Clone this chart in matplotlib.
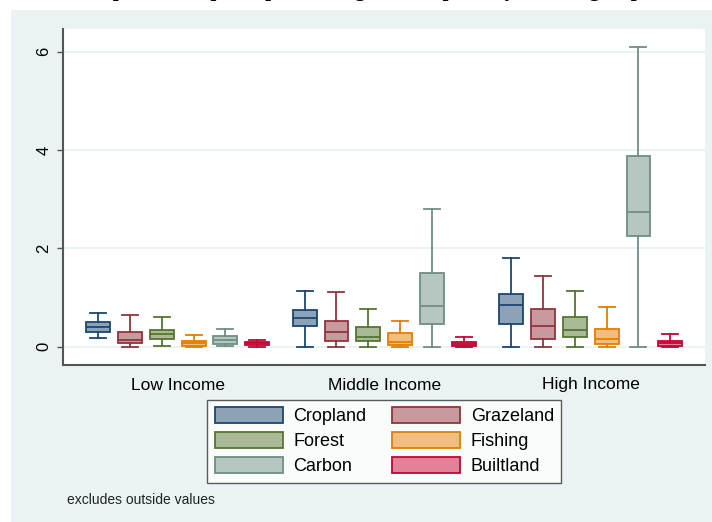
import matplotlib
matplotlib.use("Agg")
import matplotlib.pyplot as plt
from matplotlib.patches import Patch, Rectangle

# Income groups on the x axis and footprint components within each group
groups = ["Low Income", "Middle Income", "High Income"]
components = ["Cropland", "Grazeland", "Forest", "Fishing", "Carbon", "Builtland"]

# Box plot statistics (gha per capita); rows = components, columns = income groups
lower_whisker = [
    [0.17, 0.00, 0.00],
    [0.00, 0.00, 0.00],
    [0.02, 0.00, 0.00],
    [0.00, 0.00, 0.00],
    [0.01, 0.00, 0.00],
    [0.00, 0.00, 0.00],
]
q1 = [
    [0.305, 0.42, 0.47],
    [0.075, 0.12, 0.165],
    [0.16, 0.115, 0.197],
    [0.01, 0.035, 0.06],
    [0.06, 0.455, 2.25],
    [0.03, 0.02, 0.015],
]
median = [
    [0.40, 0.577, 0.84],
    [0.13, 0.305, 0.42],
    [0.25, 0.20, 0.34],
    [0.075, 0.09, 0.15],
    [0.14, 0.83, 2.74],
    [0.07, 0.055, 0.07],
]
q3 = [
    [0.50, 0.746, 1.065],
    [0.31, 0.53, 0.767],
    [0.35, 0.41, 0.60],
    [0.115, 0.285, 0.37],
    [0.22, 1.51, 3.885],
    [0.095, 0.09, 0.12],
]
upper_whisker = [
    [0.69, 1.14, 1.80],
    [0.65, 1.106, 1.44],
    [0.60, 0.77, 1.127],
    [0.24, 0.52, 0.81],
    [0.37, 2.81, 6.10],
    [0.13, 0.19, 0.27],
]

edge_colors = ["#1a476f", "#90353b", "#55752f", "#e37e00", "#6e8e84", "#c10534"]
fill_colors = ["#8ca3b7", "#c89a9d", "#aaba97", "#f1be80", "#b6c6c1", "#e08299"]

bg = "#eaf2f3"
axis_col = "#555555"

fig = plt.figure(figsize=(7.12, 5.22), dpi=100, facecolor="white")
fig.patches.append(Rectangle((11 / 712, 0), 701 / 712, 512 / 522,
                             transform=fig.transFigure, facecolor=bg,
                             edgecolor="none", zorder=-10))

fig.text(0.5, 1 + 4.2 / 522,
         "Components of per capita Ecological Footprint by income group",
         ha="center", va="baseline", fontsize=15, fontweight="bold",
         family="Liberation Serif", color="black")

ax = fig.add_axes([63 / 712, (522 - 365) / 522, 642 / 712, 336 / 522])
ax.set_facecolor("white")

step = 0.154
box_w = 0.116
cap_w = 0.0775

for ci, comp in enumerate(components):
    stats = []
    positions = []
    for gi in range(len(groups)):
        stats.append({
            "whislo": lower_whisker[ci][gi],
            "q1": q1[ci][gi],
            "med": median[ci][gi],
            "q3": q3[ci][gi],
            "whishi": upper_whisker[ci][gi],
            "fliers": [],
        })
        positions.append(gi + (ci - 2.5) * step)
    ec = edge_colors[ci]
    ax.bxp(stats, positions=positions, widths=box_w, capwidths=cap_w,
           patch_artist=True, showfliers=False, manage_ticks=False,
           boxprops=dict(facecolor=fill_colors[ci], edgecolor=ec, linewidth=1.3),
           medianprops=dict(color=ec, linewidth=1.3),
           whiskerprops=dict(color=ec, linewidth=1.3),
           capprops=dict(color=ec, linewidth=1.3))

ax.set_xlim(-0.555, 2.553)
ax.set_ylim(-0.37, 6.46)
ax.set_yticks([0, 2, 4, 6])
ax.set_xticks(range(len(groups)))
ax.set_xticklabels(groups, fontsize=12.5, family="Liberation Sans")
ax.tick_params(axis="x", length=0, pad=9)
ax.tick_params(axis="y", length=4.5, width=1, color=axis_col, pad=4,
               labelsize=12, labelrotation=90)
for lab in ax.get_yticklabels():
    lab.set_va("center")
    lab.set_family("Liberation Sans")

ax.grid(axis="y", color=bg, linewidth=1.4)
ax.set_axisbelow(True)
for side in ["top", "right"]:
    ax.spines[side].set_visible(False)
for side in ["left", "bottom"]:
    ax.spines[side].set_color(axis_col)
    ax.spines[side].set_linewidth(1.5)

handles = [Patch(facecolor=fill_colors[i], edgecolor=edge_colors[i],
                 linewidth=1.3, label=components[i]) for i in range(len(components))]
# Row-wise order for a two-column legend
order = [0, 2, 4, 1, 3, 5]
leg = fig.legend([handles[i] for i in order], [components[i] for i in order],
                 loc="center", bbox_to_anchor=(384.3 / 712, 1 - 441.3 / 522),
                 ncol=2, prop={"family": "Liberation Sans", "size": 13},
                 handlelength=3.77, handleheight=0.98, handletextpad=0.6,
                 columnspacing=1.4, labelspacing=0.38, borderpad=0.4,
                 borderaxespad=0, fancybox=False, frameon=True)
leg.get_frame().set_edgecolor("#333333")
leg.get_frame().set_linewidth(1.0)
leg.get_frame().set_facecolor("white")

fig.text(67 / 712, 1 - 500 / 522, "excludes outside values",
         ha="left", va="center", fontsize=10, family="Liberation Sans",
         color="#222222")

fig.savefig("out.png", dpi=100, facecolor="white")
